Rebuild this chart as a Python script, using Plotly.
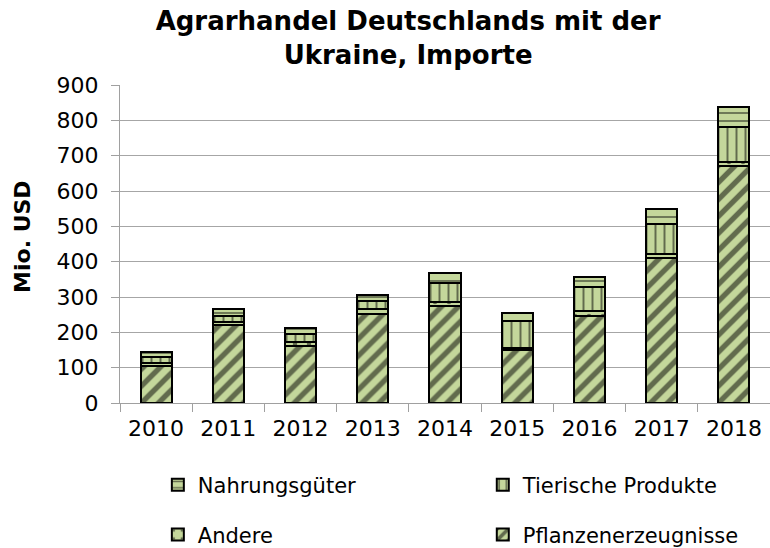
import plotly.graph_objects as go

years = ["2010", "2011", "2012", "2013", "2014", "2015", "2016", "2017", "2018"]
pflanzen = [106, 222, 162, 251, 275, 150, 245, 410, 670]
andere = [6, 8, 10, 14, 12, 5, 14, 12, 11]
tierische = [18, 15, 23, 25, 54, 78, 68, 85, 100]
nahrung = [15, 20, 17, 17, 26, 22, 31, 41, 57]

series_names = ["Pflanzenerzeugnisse", "Andere", "Tierische Produkte", "Nahrungsgüter"]

FILL = "#c4d79b"
FONT = "Tahoma, 'DejaVu Sans', sans-serif"

fig = go.Figure()

specs = [
    (series_names[0], pflanzen, dict(shape="/", size=12, solidity=0.45), "legend4"),
    (series_names[1], andere, dict(shape=".", size=14, solidity=0.08), "legend3"),
    (series_names[2], tierische, dict(shape="|", size=9, solidity=0.22), "legend2"),
    (series_names[3], nahrung, dict(shape="-", size=8, solidity=0.22), "legend"),
]
for name, vals, pat, leg in specs:
    fig.add_trace(go.Bar(
        x=years, y=vals, name=name, showlegend=True,
        marker=dict(color=FILL, line=dict(color="black", width=2),
                    pattern=dict(fgcolor="black", bgcolor=FILL, fillmode="overlay", **pat)),
        legend=leg,
    ))

def leg(x, y):
    return dict(xref="container", yref="container", x=x, y=y, visible=True,
                xanchor="left", yanchor="middle", font=dict(size=21),
                bgcolor="rgba(0,0,0,0)")

fig.update_layout(
    showlegend=True,
    barmode="stack",
    bargap=0.57,
    width=770, height=548,
    margin=dict(l=120, r=0, t=85, b=145, autoexpand=False),
    paper_bgcolor="white", plot_bgcolor="white",
    font=dict(family=FONT, color="black"),
    title=dict(text="<b>Agrarhandel Deutschlands mit der<br>Ukraine, Importe</b>",
               xref="container", yref="container",
               x=0.53, xanchor="center", y=1 - 30 / 548, yanchor="middle",
               font=dict(size=26, family=FONT)),
    xaxis=dict(showline=True, linecolor="#a0a0a0", linewidth=1,
               ticks="outside", tickson="boundaries", ticklen=8, tickcolor="#a0a0a0",
               tickfont=dict(size=22), ticklabelstandoff=6, automargin=False),
    yaxis=dict(range=[0, 900], dtick=100, showgrid=True, gridcolor="#a6a6a6", gridwidth=1,
               showline=True, linecolor="#a0a0a0", linewidth=1,
               ticks="outside", ticklen=8, tickcolor="#a0a0a0",
               tickfont=dict(size=22), zeroline=False, ticklabelstandoff=8,
               automargin=False),
    annotations=[dict(text="<b>Mio. USD</b>", textangle=-90, showarrow=False,
                      xref="paper", yref="paper", x=-0.151, y=0.525,
                      xanchor="center", yanchor="middle", font=dict(size=22))],
    legend=leg(0.205, 0.115),
    legend2=leg(0.627, 0.115),
    legend3=leg(0.205, 0.024),
    legend4=leg(0.627, 0.024),
)

fig.write_html("out.html", config={"displayModeBar": False},
               post_script="document.body.style.margin='0';")
